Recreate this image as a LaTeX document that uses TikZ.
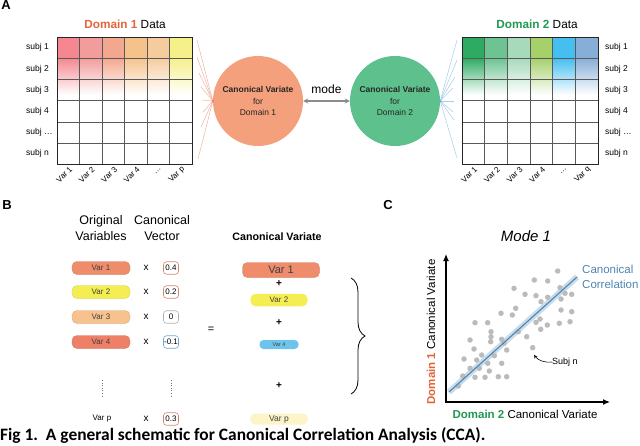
\documentclass[tikz,border=0pt]{standalone}
\usepackage{fontspec}
\setmainfont{Liberation Sans}
\newfontfamily\capfont{Carlito}
\usetikzlibrary{arrows.meta,decorations.pathreplacing}
\newcommand{\fsz}[1]{\fontsize{#1}{#1}\selectfont}
\definecolor{domA}{HTML}{E2653A}
\definecolor{domB}{HTML}{1F9A52}
\definecolor{cvA}{HTML}{F4A07C}
\definecolor{cvB}{HTML}{5EC08C}
\definecolor{fanA}{HTML}{EFB3A4}
\definecolor{fanB}{HTML}{A9CDE6}
\definecolor{a1}{HTML}{F4878F}
\definecolor{a2}{HTML}{F29C9C}
\definecolor{a3}{HTML}{F4A78F}
\definecolor{a4}{HTML}{F6C28B}
\definecolor{a5}{HTML}{F6CC9E}
\definecolor{a6}{HTML}{F5F08A}
\definecolor{b1}{HTML}{2EAB62}
\definecolor{b2}{HTML}{6DC392}
\definecolor{b3}{HTML}{A6DABB}
\definecolor{b4}{HTML}{A5D06A}
\definecolor{b5}{HTML}{45BEF0}
\definecolor{b6}{HTML}{86AED7}
\definecolor{v1}{HTML}{EF8C6C}
\definecolor{v2}{HTML}{F5EE52}
\definecolor{v3}{HTML}{F8C28E}
\definecolor{v4}{HTML}{EE8068}
\definecolor{v4b}{HTML}{6CC4EC}
\definecolor{vp}{HTML}{FDF4C8}
\definecolor{wr}{HTML}{D4846A}
\definecolor{wg}{HTML}{B0B0B0}
\definecolor{wb}{HTML}{6FA6CF}
\definecolor{ccl}{HTML}{4F84AE}
\definecolor{band}{HTML}{C8DCEC}
\definecolor{ptgray}{HTML}{BBBBBB}
\begin{document}
\begin{tikzpicture}
[x=1pt,y=-1pt,
panel/.style={font=\bfseries\fsz{13}},
title/.style={font=\fsz{11.8}},
rowlab/.style={anchor=west,font=\fsz{8.5},inner sep=0pt},
collab/.style={anchor=east,rotate=45,font=\fsz{8},inner sep=0pt},
gridline/.style={draw=black!65,line width=0.6pt},
gridframe/.style={draw=black!85,line width=1pt},
cv/.style={circle,minimum size=90pt,inner sep=0pt,align=center,text=black!85,font=\fontsize{8.5}{11.3}\selectfont},
modearrow/.style={draw=black!45,line width=1.3pt,{Stealth[length=5pt,width=5pt]}-{Stealth[length=5pt,width=5pt]}},
pill/.style={rounded corners=5pt,minimum width=58pt,minimum height=13pt,inner sep=0pt,font=\fsz{8},text=black!75},
wbox/.style={rounded corners=3pt,minimum width=15pt,minimum height=12.5pt,inner sep=0pt,font=\fsz{8},line width=0.6pt},
mult/.style={font=\fsz{10}},
sdot/.style={circle,fill=ptgray,inner sep=0pt,minimum size=5.5pt}]
\useasboundingbox (0,0) rectangle (640,445);
% panel A
\node[panel] (pa) at (6,5) {A};
\node[title] (ta) at (125,24) {\textcolor{domA}{\textbf{Domain 1}} Data};
\foreach \c [count=\i from 0] in {a1,a2,a3,a4,a5,a6}{
  \fill[\c] (57+22.5*\i,37) rectangle (79.5+22.5*\i,58);
  \shade[top color=\c,bottom color=white] (57+22.5*\i,58) rectangle (79.5+22.5*\i,95);
}
\foreach \i in {1,...,5} \draw[gridline] (57+22.5*\i,37) -- (57+22.5*\i,164);
\foreach \j in {1,...,5} \draw[gridline] (57,37+21.2*\j) -- (192,37+21.2*\j);
\draw[gridframe] (57,37) rectangle (192,164);
\foreach \txt [count=\j from 0] in {subj 1,subj 2,subj 3,subj 4,{subj \ldots},subj n}
  \node[rowlab] (ra\j) at (26,47.6+21.2*\j) {\txt};
\foreach \txt [count=\i from 0] in {Var 1,Var 2,Var 3,Var 4,{\ldots},Var p}
  \node[collab] (ca\i) at (71+22.5*\i,168) {\txt};

\node[title] (tb) at (537,24) {\textcolor{domB}{\textbf{Domain 2}} Data};
\foreach \c [count=\i from 0] in {b1,b2,b3,b4,b5,b6}{
  \fill[\c] (462+22.67*\i,37) rectangle (484.67+22.67*\i,58);
  \shade[top color=\c,bottom color=white] (462+22.67*\i,58) rectangle (484.67+22.67*\i,95);
}
\foreach \i in {1,...,5} \draw[gridline] (462+22.67*\i,37) -- (462+22.67*\i,164);
\foreach \j in {1,...,5} \draw[gridline] (462,37+21.2*\j) -- (598,37+21.2*\j);
\draw[gridframe] (462,37) rectangle (598,164);
\foreach \txt [count=\j from 0] in {subj 1,subj 2,subj 3,subj 4,{subj \ldots},subj n}
  \node[rowlab] (rb\j) at (605,47.6+21.2*\j) {\txt};
\foreach \txt [count=\i from 0] in {Var 1,Var 2,Var 3,Var 4,{\ldots},Var q}
  \node[collab] (cb\i) at (476+22.67*\i,168) {\txt};

\node[cv,fill=cvA] (cv1) at (258,101) {\textbf{Canonical Variate}\\for\\Domain 1};
\node[cv,fill=cvB] (cv2) at (395,101) {\textbf{Canonical Variate}\\for\\Domain 2};
\draw[modearrow] (cv1) -- node[above=3pt,font=\fsz{12}] (mode) {mode} (cv2);
\foreach \y/\x [count=\k] in {40/197,57/197,73/199,87/201,100/202,112/203,127/201,159/198}{
  \coordinate (fa\k) at (\x,\y);
  \draw[fanA,line width=0.5pt] (fa\k) -- (cv1.west);
}
\foreach \y/\x [count=\k] in {40/457,60/457,77/455,88/453,101/454,112/453,120/454,158/457}{
  \coordinate (fb\k) at (\x,\y);
  \draw[fanB,line width=0.5pt] (fb\k) -- (cv2.east);
}
\fill[domA!80] (cv1.west) circle (1.3);
\fill[b5] (cv2.east) circle (1.3);

% panel B
\node[panel] (pb) at (7,205) {B};
\node[align=center,font=\fontsize{12.5}{16}\selectfont] (orig) at (101,228) {Original\\Variables};
\node[align=center,font=\fontsize{12.5}{16}\selectfont] (cvec) at (162,228) {Canonical\\Vector};
\foreach \c/\txt/\y [count=\k] in {v1/Var 1/268,v2/Var 2/292,v3/Var 3/317,v4/Var 4/342}{
  \node[pill,fill=\c,draw=\c!85!black,line width=0.3pt] (ov\k) at (101,\y) {\txt};
  \node[mult] (x\k) at (146,\y) {x};
}
\foreach \c/\txt/\y [count=\k] in {wr/0.4/268,wr/0.2/292,wg/0/317,wb/-0.1/342}
  \node[wbox,draw=\c] (w\k) at (171,\y) {\txt};
\draw[black!55,line width=1pt,dash pattern=on 1pt off 1.6pt] (102,380) -- (102,398);
\draw[black!55,line width=1pt,dash pattern=on 1pt off 1.6pt] (171,380) -- (171,398);
\node[font=\fsz{8}] (ovp) at (102,419) {Var p};
\node[mult] (xp) at (146,419) {x};
\node[wbox,draw=wr] (wp) at (171,419) {0.3};

\node[font=\bfseries\fsz{10.7}] (cvt) at (277,237) {Canonical Variate};
\node[font=\fsz{11}] (eq) at (211,330) {=};
\node[pill,fill=v1,draw=v1!85!black,line width=0.3pt,minimum width=77pt,minimum height=15pt,font=\fsz{11}] (s1) at (281,270) {Var 1};
\node[mult,font=\bfseries\fsz{10}] (pl1) at (279,284) {+};
\node[pill,fill=v2,minimum width=57pt,minimum height=12.5pt] (s2) at (279,300) {Var 2};
\node[mult,font=\bfseries\fsz{10}] (pl2) at (279,323) {+};
\node[pill,fill=v4b,minimum width=39pt,minimum height=9pt,rounded corners=4pt,font=\fsz{5.5}] (s4) at (279,344.5) {Var 4};
\node[mult,font=\bfseries\fsz{10}] (pl3) at (279,385.5) {+};
\node[pill,fill=vp,minimum height=11pt,font=\fsz{8.5}] (sp) at (279,419) {Var p};
\coordinate (bt) at (351,278);
\coordinate (bb) at (351,394);
\draw[line width=0.8pt,decorate,decoration={brace,amplitude=14pt}] (bt) -- (bb);

% panel C
\node[panel] (pc) at (388,205) {C};
\node[font=\itshape\fsz{15}] (mode1) at (526,236) {Mode 1};
\coordinate (o) at (446,402);
\coordinate (ytop) at (446,254);
\coordinate (xend) at (610,402);
\coordinate (r0) at (449,392);
\coordinate (r1) at (577,277);
\draw[band,line width=6pt] (r0) -- (r1);
\foreach \x/\y [count=\k] in {557.7/271,534.3/280,547.7/281,514/288.3,525/294.3,536/295.7,541/301.7,547.7/297.3,560/287.7,565/293.3,571.7/294.3,561/299,515.7/308.3,501/313.3,512.3/315,561/310,571.7/311.7,475/322.7,487.7/322.7,536/322.3,540/319,547.3/325,540.7/329.3,559.3/323.3,570/321.7,491/331.7,491/336.7,490.7/341.7,501.7/339.3,518.3/331.7,526.7/336.7,470/340,474/349,504/343.3,506.7/350,481.7/355,494.3/355.7,464/359,476.7/360,487.7/363.3,501.7/363.3,470/368.3,479.3/368.3,489.3/371,462.7/376,475/377.3,485/377.3,498.3/376.7,506.7/376.7,458.3/386}
  \node[sdot] (p\k) at (\x,\y) {};
\node[sdot] (pn) at (532.7,347.7) {};
\draw[ccl,line width=1.1pt] (r0) -- (r1);
\draw[line width=1.2pt,{Latex[length=7pt,width=6pt]}-{Latex[length=7pt,width=6pt]}] (ytop) -- (o) -- (xend);
\node[anchor=west,align=left,text=ccl,font=\fontsize{11.5}{14.3}\selectfont,inner sep=0pt] (cc) at (582,277) {Canonical\\Correlation};
\node[anchor=west,font=\fsz{9},inner sep=0pt] (subjn) at (552,362) {Subj n};
\coordinate (pnt) at (534,355);
\draw[line width=0.6pt,-{Stealth[length=3.5pt,width=3.5pt]}] (subjn.west) .. controls +(-8,1) and +(4,5) .. (pnt);
\node[rotate=90,font=\fsz{11.5}] (ylab) at (431,332) {\textcolor{domA}{\textbf{Domain 1}} Canonical Variate};
\node[font=\fsz{11.5}] (xlab) at (525,414) {\textcolor{domB}{\textbf{Domain 2}} Canonical Variate};

\node[anchor=west,inner sep=0pt,font=\capfont\bfseries\fsz{17.4}] (cap) at (0,436) {Fig 1.\ \ A general schematic for Canonical Correlation Analysis (CCA).};
\end{tikzpicture}
\end{document}
